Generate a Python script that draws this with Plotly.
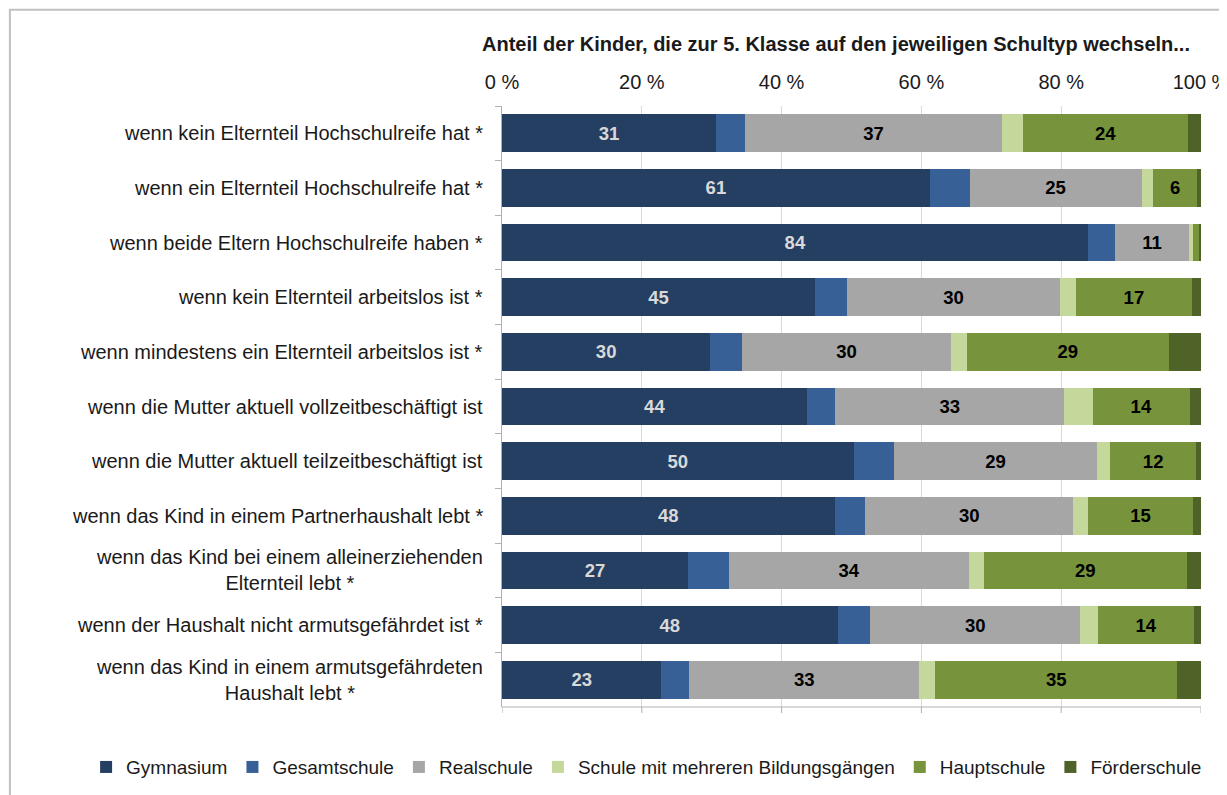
import plotly.graph_objects as go

categories = [
    "wenn kein Elternteil Hochschulreife hat *",
    "wenn ein Elternteil Hochschulreife hat *",
    "wenn beide Eltern Hochschulreife haben *",
    "wenn kein Elternteil arbeitslos ist *",
    "wenn mindestens ein Elternteil arbeitslos ist *",
    "wenn die Mutter aktuell vollzeitbeschäftigt ist",
    "wenn die Mutter aktuell teilzeitbeschäftigt ist",
    "wenn das Kind in einem Partnerhaushalt lebt *",
    "wenn das Kind bei einem alleinerziehenden<br>Elternteil lebt *",
    "wenn der Haushalt nicht armutsgefährdet ist *",
    "wenn das Kind in einem armutsgefährdeten<br>Haushalt lebt *",
]

gymnasium    = [30.6, 61.2, 83.9, 44.8, 29.8, 43.7, 50.3, 47.6, 26.6, 48.0, 22.8]
gesamtschule = [4.2, 5.7, 3.8, 4.6, 4.6, 4.0, 5.8, 4.4, 5.9, 4.7, 4.0]
realschule   = [36.7, 24.6, 10.6, 30.4, 29.8, 32.7, 29.0, 29.7, 34.3, 30.0, 32.9]
mehrere      = [3.0, 1.7, 0.5, 2.3, 2.3, 4.1, 1.9, 2.2, 2.1, 2.6, 2.3]
hauptschule  = [23.7, 6.2, 0.9, 16.6, 28.9, 13.9, 12.3, 14.9, 29.1, 13.7, 34.6]
foerder      = [1.8, 0.6, 0.3, 1.3, 4.6, 1.6, 0.7, 1.2, 2.0, 1.0, 3.4]

series_names = ["Gymnasium", "Gesamtschule", "Realschule",
                "Schule mit mehreren Bildungsgängen", "Hauptschule", "Förderschule"]
series_values = [gymnasium, gesamtschule, realschule, mehrere, hauptschule, foerder]
series_colors = ["#243F62", "#376196", "#A6A6A6", "#C4D89C", "#77933C", "#4F6228"]
show_labels = [True, False, True, False, True, False]
label_colors = ["#D9D9D9", "#000000", "#000000", "#000000", "#000000", "#000000"]

tick_vals = [0, 20, 40, 60, 80, 100]
tick_text = ["0 %", "20 %", "40 %", "60 %", "80 %", "100 %"]

title_text = "Anteil der Kinder, die zur 5. Klasse auf den jeweiligen Schultyp wechseln..."

FONT = "Liberation Sans, Arial, sans-serif"

fig = go.Figure()
for name, vals, col, lab, lcol in zip(series_names, series_values, series_colors,
                                       show_labels, label_colors):
    fig.add_trace(go.Bar(
        name=name, y=categories, x=vals, orientation="h",
        marker=dict(color=col, line=dict(width=0)),
        texttemplate="%{x:.0f}" if lab else None,
        textposition="inside" if lab else "none",
        insidetextanchor="middle",
        textfont=dict(family=FONT, size=18.5, color=lcol, weight="bold"),
        hoverinfo="x+name",
    ))

annotations = []
for c in categories:
    annotations.append(dict(
        xref="paper", yref="y", x=0, y=c, xanchor="right", yanchor="middle",
        xshift=-17, text=c, showarrow=False, align="center",
        font=dict(family=FONT, size=20, color="#1a1a1a"),
    ))
annotations.append(dict(
    xref="paper", yref="paper", x=-0.031, y=1.103, xanchor="left", yanchor="middle",
    text="<b>" + title_text + "</b>", showarrow=False,
    font=dict(family=FONT, size=20, color="#1a1a1a"),
))

shapes = [
    dict(type="rect", xref="paper", yref="paper", x0=-0.704, x1=1.06, y0=-0.17, y1=1.16,
         line=dict(color="#C0C0C0", width=2), fillcolor="rgba(0,0,0,0)", layer="below"),
    dict(type="line", xref="paper", yref="paper", x0=0, x1=1, y0=0, y1=0,
         line=dict(color="#B0B0B0", width=1)),
]
for tv in tick_vals:
    shapes.append(dict(type="line", xref="x", yref="paper", ysizemode="pixel", yanchor=0,
                       x0=tv, x1=tv, y0=0, y1=-6, line=dict(color="#B0B0B0", width=1)))

fig.update_layout(
    barmode="stack",
    bargap=0.31,
    width=1219, height=787,
    margin=dict(l=494, r=26, t=98, b=88, autoexpand=False),
    paper_bgcolor="white", plot_bgcolor="white",
    font=dict(family=FONT, color="#1a1a1a"),
    uniformtext=dict(mode="hide", minsize=18),
    showlegend=True,
    legend=dict(orientation="h", x=-0.595, xanchor="left", y=-0.1, yanchor="middle",
                font=dict(family=FONT, size=19, color="#1a1a1a"),
                traceorder="normal", itemclick=False, itemwidth=30,
                bgcolor="rgba(0,0,0,0)"),
    xaxis=dict(range=[0, 100], side="top", tickvals=tick_vals, ticktext=tick_text,
               showgrid=True, gridcolor="#D9D9D9", gridwidth=1, zeroline=False,
               showline=False, ticks="", ticklabelstandoff=12,
               ticklabeloverflow="allow",
               tickfont=dict(family=FONT, size=20, color="#1a1a1a"), fixedrange=True),
    yaxis=dict(autorange="reversed", showticklabels=False, showline=True,
               linecolor="#B0B0B0", linewidth=1, ticks="outside", tickson="boundaries",
               ticklen=6, tickcolor="#B0B0B0", showgrid=False, zeroline=False,
               fixedrange=True),
    annotations=annotations,
    shapes=shapes,
)

fig.write_html("out.html")
